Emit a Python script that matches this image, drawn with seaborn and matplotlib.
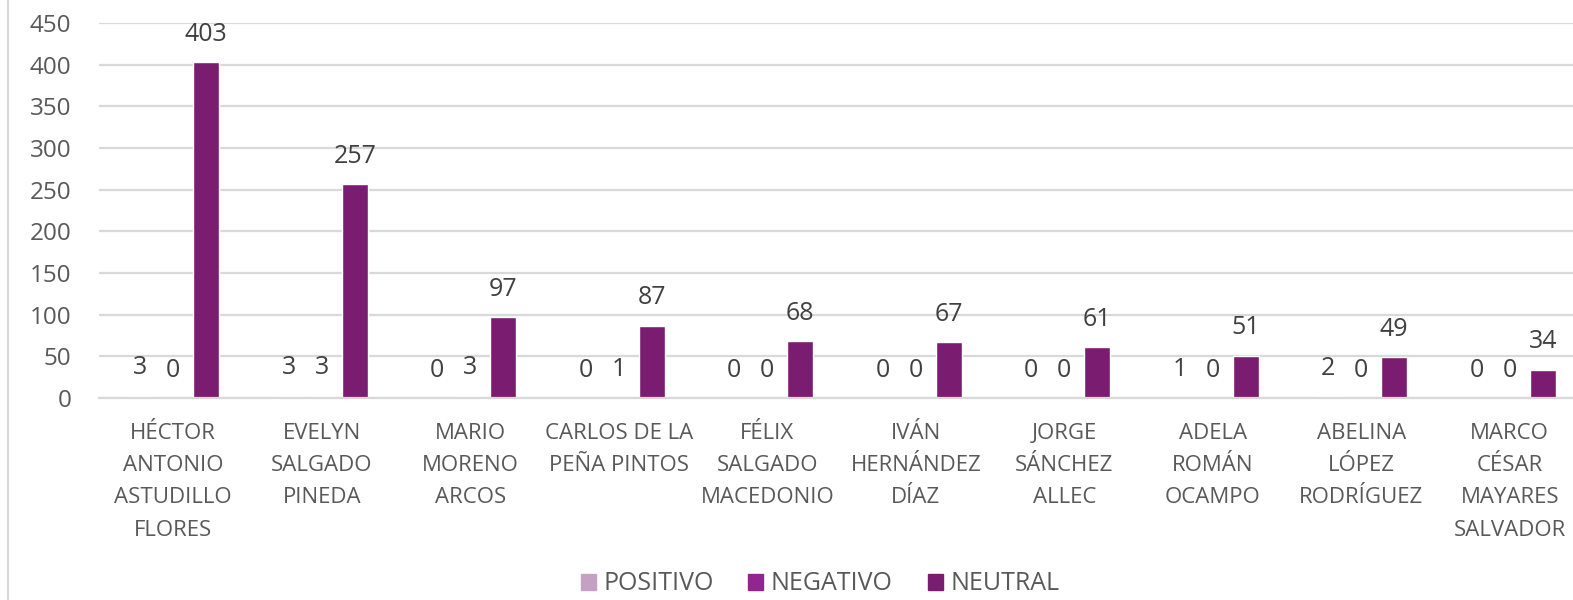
import matplotlib.pyplot as plt
import seaborn as sns
import pandas as pd
from matplotlib.lines import Line2D

candidatos = [
    "HÉCTOR ANTONIO ASTUDILLO FLORES",
    "EVELYN SALGADO PINEDA",
    "MARIO MORENO ARCOS",
    "CARLOS DE LA PEÑA PINTOS",
    "FÉLIX SALGADO MACEDONIO",
    "IVÁN HERNÁNDEZ DÍAZ",
    "JORGE SÁNCHEZ ALLEC",
    "ADELA ROMÁN OCAMPO",
    "ABELINA LÓPEZ RODRÍGUEZ",
    "MARCO CÉSAR MAYARES SALVADOR",
]
etiquetas = [
    "HÉCTOR\nANTONIO\nASTUDILLO\nFLORES",
    "EVELYN\nSALGADO\nPINEDA",
    "MARIO\nMORENO\nARCOS",
    "CARLOS DE LA\nPEÑA PINTOS",
    "FÉLIX\nSALGADO\nMACEDONIO",
    "IVÁN\nHERNÁNDEZ\nDÍAZ",
    "JORGE\nSÁNCHEZ\nALLEC",
    "ADELA\nROMÁN\nOCAMPO",
    "ABELINA\nLÓPEZ\nRODRÍGUEZ",
    "MARCO\nCÉSAR\nMAYARES\nSALVADOR",
]
positivo = [3, 3, 0, 0, 0, 0, 0, 1, 2, 0]
negativo = [0, 3, 3, 1, 0, 0, 0, 0, 0, 0]
neutral = [403, 257, 97, 87, 68, 67, 61, 51, 49, 34]

series = {"POSITIVO": positivo, "NEGATIVO": negativo, "NEUTRAL": neutral}
colores = {"POSITIVO": "#C4A0C4", "NEGATIVO": "#93268E", "NEUTRAL": "#7A1D70"}

df = pd.DataFrame(
    [(c, s, v) for s, vals in series.items() for c, v in zip(candidatos, vals)],
    columns=["candidato", "tipo", "valor"],
)

sns.set_theme(style="white")
plt.rcParams["font.family"] = ["Open Sans", "DejaVu Sans"]
texto = "#595959"

fig = plt.figure(figsize=(15.73, 6), dpi=100)
ax = fig.add_axes([99 / 1573, 1 - 398 / 600, 1485 / 1573, 375 / 600])

sns.barplot(
    data=df, x="candidato", y="valor", hue="tipo", palette=colores,
    width=0.667, gap=0.21, saturation=1, ax=ax, legend=False,
)

for cont in ax.containers:
    ax.bar_label(cont, padding=11, fontsize=18, color="#404040")

ax.set_ylim(0, 450)
ax.set_xlim(-0.5, 9.5)
ax.set_yticks(range(0, 451, 50))
ax.yaxis.grid(True, color="#D9D9D9", linewidth=1.6)
ax.set_axisbelow(True)
for lado in ["left", "right", "top"]:
    ax.spines[lado].set_visible(False)
ax.spines["bottom"].set_color("#D9D9D9")
ax.spines["bottom"].set_linewidth(1.6)
ax.set_xticks(range(len(etiquetas)))
ax.set_xticklabels(etiquetas, fontsize=16, color=texto, linespacing=1.7, va="top")
ax.tick_params(axis="x", length=0, pad=18)
ax.tick_params(axis="y", length=0, pad=20, labelsize=17.5, labelcolor=texto)
ax.set_xlabel("")
ax.set_ylabel("")

handles = [plt.Rectangle((0, 0), 1, 1, color=colores[s]) for s in series]
fig.legend(
    handles, list(series), loc="center", bbox_to_anchor=(820 / 1573, 1 - 584 / 600),
    ncol=3, frameon=False, fontsize=18, labelcolor=texto,
    handlelength=0.6, handleheight=0.6, handletextpad=0.3, columnspacing=1.4,
)

fig.add_artist(Line2D([8 / 1573, 8 / 1573], [0, 1], color="#D9D9D9", linewidth=1.5,
                      transform=fig.transFigure))

fig.savefig("out.png", dpi=100)
